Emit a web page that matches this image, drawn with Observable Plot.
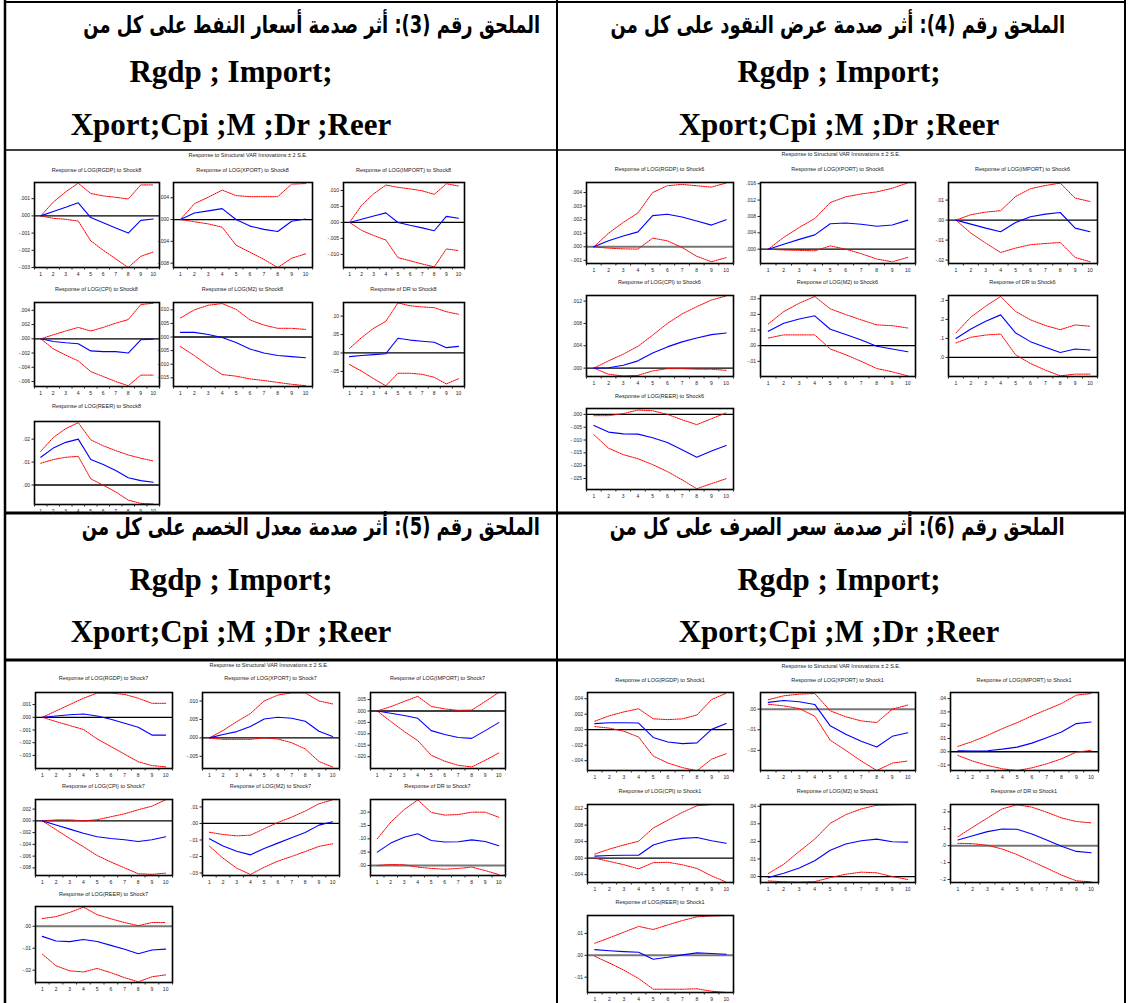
<!DOCTYPE html>
<html><head><meta charset="utf-8">
<script src="https://cdn.jsdelivr.net/npm/d3@7"></script>
<script src="https://cdn.jsdelivr.net/npm/@observablehq/plot@0.6"></script>
<style>
html,body{margin:0;padding:0;background:#fff;}
#page{position:relative;width:1130px;height:1003px;overflow:hidden;background:#fff;}
.ar{position:absolute;font-family:"DejaVu Sans",sans-serif;font-weight:bold;font-size:24px;direction:rtl;white-space:nowrap;line-height:30px;color:#000;transform:scaleX(0.745);transform-origin:right center;}
</style></head><body><div id="page"></div>
<script>
const periods = [1,2,3,4,5,6,7,8,9,10];
const variables = ["LOG(RGDP)","LOG(XPORT)","LOG(IMPORT)","LOG(CPI)","LOG(M2)","DR","LOG(REER)"];
const shocks = ["Shock8","Shock6","Shock7","Shock1"];
const headersAr = [
  "الملحق رقم (3): أثر صدمة أسعار النفط على كل من",
  "الملحق رقم (4): أثر صدمة عرض النقود على كل من",
  "الملحق رقم (5): أثر صدمة معدل الخصم على كل من",
  "الملحق رقم (6): أثر صدمة سعر الصرف على كل من"
];
const headerLine1 = "Rgdp ; Import;";
const headerLine2 = "Xport;Cpi ;M ;Dr ;Reer";
const superTitle = "Response to Structural VAR Innovations \u00b1 2 S.E.";

// ---- Shock8 (oil price) ----
const s8_rgdp    = [0, 0.00026, 0.0005, 0.00076, -0.0001, -0.0004, -0.0007, -0.001, -0.00026, -0.00018];
const s8_rgdp_hi = [0, 0.0008, 0.0014, 0.0019, 0.0013, 0.00116, 0.00108, 0.00098, 0.0018, 0.0018];
const s8_rgdp_lo = [0, -0.00014, -0.0002, -0.0003, -0.00145, -0.002, -0.0025, -0.003, -0.00235, -0.0021];
const s8_rgdp_ticks = [0.001, 0, -0.001, -0.002, -0.003];
const s8_xport    = [0, 0.0012, 0.0016, 0.002, 0, -0.0012, -0.0018, -0.0022, -0.0003, 0.0001];
const s8_xport_hi = [0, 0.0029, 0.0041, 0.0054, 0.0044, 0.0042, 0.0042, 0.0042, 0.0065, 0.0066];
const s8_xport_lo = [0, -0.0004, -0.0008, -0.0014, -0.0047, -0.006, -0.0073, -0.0088, -0.0071, -0.0063];
const s8_xport_ticks = [0.004, 0, -0.004, -0.008];
const s8_import    = [0, 0.001, 0.002, 0.003, 0, -0.0009, -0.0017, -0.0026, 0.0019, 0.0013];
const s8_import_hi = [0, 0.0054, 0.009, 0.0117, 0.011, 0.0105, 0.0099, 0.0088, 0.0121, 0.0114];
const s8_import_lo = [0, -0.0025, -0.0041, -0.0055, -0.011, -0.012, -0.013, -0.0139, -0.0083, -0.0088];
const s8_import_ticks = [0.010, 0.005, 0, -0.005, -0.010];
const s8_cpi    = [0, -0.00037, -0.00056, -0.0007, -0.0017, -0.0018, -0.0018, -0.002, -0.00014, -0.00005];
const s8_cpi_hi = [0, 0.00056, 0.0011, 0.0016, 0.0011, 0.0016, 0.0022, 0.0027, 0.0048, 0.005];
const s8_cpi_lo = [0, -0.0014, -0.0023, -0.0031, -0.0046, -0.0053, -0.006, -0.0066, -0.0051, -0.0051];
const s8_cpi_ticks = [0.004, 0.002, 0, -0.002, -0.004, -0.006];
const s8_m2    = [0.0017, 0.0017, 0.0009, -0.0002, -0.002, -0.0044, -0.0059, -0.0068, -0.0072, -0.0076];
const s8_m2_hi = [0.007, 0.01, 0.0117, 0.0123, 0.0102, 0.0063, 0.0044, 0.0032, 0.0032, 0.0028];
const s8_m2_lo = [-0.0035, -0.0068, -0.0105, -0.0138, -0.0144, -0.0154, -0.016, -0.0167, -0.0174, -0.0179];
const s8_m2_ticks = [0.010, 0.005, 0, -0.005, -0.010, -0.015];
const s8_dr    = [-0.0099, -0.007, -0.0045, -0.002, 0.04, 0.035, 0.032, 0.029, 0.0144, 0.018];
const s8_dr_hi = [0.0126, 0.042, 0.067, 0.086, 0.136, 0.128, 0.125, 0.123, 0.112, 0.105];
const s8_dr_lo = [-0.0315, -0.0495, -0.07, -0.089, -0.055, -0.055, -0.058, -0.066, -0.084, -0.07];
const s8_dr_ticks = [0.10, 0.05, 0, -0.05];
const s8_reer    = [0.0121, 0.0161, 0.0186, 0.02, 0.0111, 0.0089, 0.0063, 0.0032, 0.0019, 0.0012];
const s8_reer_hi = [0.0147, 0.0207, 0.0246, 0.0272, 0.0197, 0.0171, 0.015, 0.0131, 0.0117, 0.0105];
const s8_reer_lo = [0.0095, 0.0111, 0.0121, 0.0125, 0.0027, -0.0001, -0.003, -0.0066, -0.008, -0.0083];
const s8_reer_ticks = [0.02, 0.01, 0];

// ---- Shock6 (money supply) ----
const s6_rgdp    = [0, 0.00044, 0.0008, 0.0011, 0.0023, 0.0024, 0.0022, 0.0019, 0.0016, 0.002];
const s6_rgdp_hi = [0, 0.001, 0.0018, 0.0025, 0.004, 0.0045, 0.0046, 0.0045, 0.0044, 0.0047];
const s6_rgdp_lo = [0, -0.0001, -0.00015, -0.00017, 0.00064, 0.00044, -0.00005, -0.0007, -0.0011, -0.0008];
const s6_rgdp_ticks = [0.004, 0.003, 0.002, 0.001, 0, -0.001];
const s6_xport    = [0, 0.0012, 0.0024, 0.0035, 0.0062, 0.0064, 0.0061, 0.0056, 0.0059, 0.0071];
const s6_xport_hi = [0, 0.0029, 0.0053, 0.0075, 0.0114, 0.0128, 0.0135, 0.014, 0.0149, 0.0162];
const s6_xport_lo = [0, -0.0002, -0.0003, -0.0004, 0.0008, 0, -0.0011, -0.0024, -0.0031, -0.002];
const s6_xport_ticks = [0.016, 0.012, 0.008, 0.004, 0];
const s6_import    = [0, -0.002, -0.004, -0.0058, -0.0012, 0.0017, 0.003, 0.0038, -0.004, -0.0058];
const s6_import_hi = [0, 0.0027, 0.004, 0.0047, 0.0118, 0.0157, 0.0173, 0.0185, 0.011, 0.0093];
const s6_import_lo = [0, -0.0065, -0.0115, -0.0162, -0.014, -0.0123, -0.0117, -0.0112, -0.0187, -0.0208];
const s6_import_ticks = [0.01, 0, -0.01, -0.02];
const s6_cpi    = [0, 0.00006, 0.0005, 0.0013, 0.0027, 0.0038, 0.0047, 0.0054, 0.006, 0.0063];
const s6_cpi_hi = [0, 0.0013, 0.0025, 0.0039, 0.0059, 0.008, 0.0097, 0.011, 0.0122, 0.0129];
const s6_cpi_lo = [0, -0.0011, -0.0014, -0.0013, -0.0005, -0.0001, -0.0001, -0.0002, -0.0002, -0.0004];
const s6_cpi_ticks = [0.012, 0.008, 0.004, 0];
const s6_m2    = [0.0092, 0.0143, 0.0171, 0.0191, 0.0105, 0.0071, 0.0036, -0.0004, -0.0021, -0.0039];
const s6_m2_hi = [0.0139, 0.0218, 0.0272, 0.0315, 0.0236, 0.0199, 0.0165, 0.0133, 0.0128, 0.0113];
const s6_m2_lo = [0.0049, 0.0069, 0.0069, 0.0069, -0.0021, -0.0058, -0.01, -0.0146, -0.0167, -0.0193];
const s6_m2_ticks = [0.03, 0.02, 0.01, 0, -0.01];
const s6_dr    = [0.1, 0.15, 0.19, 0.224, 0.129, 0.083, 0.053, 0.026, 0.044, 0.039];
const s6_dr_hi = [0.129, 0.212, 0.27, 0.321, 0.242, 0.198, 0.168, 0.146, 0.171, 0.164];
const s6_dr_lo = [0.076, 0.106, 0.118, 0.123, 0.014, -0.032, -0.067, -0.097, -0.088, -0.088];
const s6_dr_ticks = [0.3, 0.2, 0.1, 0];
const s6_reer    = [-0.0043, -0.0069, -0.0076, -0.0077, -0.0091, -0.011, -0.0138, -0.0167, -0.0143, -0.0121];
const s6_reer_hi = [-0.0005, -0.0005, 0.0003, 0.0017, 0.0014, 0, -0.0021, -0.004, -0.0017, 0.0006];
const s6_reer_lo = [-0.0079, -0.0132, -0.0157, -0.0173, -0.0196, -0.0223, -0.0255, -0.029, -0.027, -0.0251];
const s6_reer_ticks = [0, -0.005, -0.010, -0.015, -0.020, -0.025];

// ---- Shock7 (discount rate) ----
const s7_rgdp    = [0, 0.0001, 0.0002, 0.00026, 0.0001, -0.00016, -0.00047, -0.00078, -0.0014, -0.0014];
const s7_rgdp_hi = [0, 0.0005, 0.001, 0.0015, 0.0019, 0.0019, 0.0018, 0.0015, 0.0011, 0.0011];
const s7_rgdp_lo = [0, -0.00034, -0.00065, -0.00096, -0.0017, -0.0023, -0.0029, -0.0035, -0.0038, -0.0039];
const s7_rgdp_ticks = [0.001, 0, -0.001, -0.002, -0.003];
const s7_xport    = [0, 0.0009, 0.0017, 0.0031, 0.0051, 0.0056, 0.0053, 0.0045, 0.0018, 0.0004];
const s7_xport_hi = [0, 0.002, 0.0044, 0.0066, 0.01, 0.0116, 0.0122, 0.0122, 0.01, 0.0092];
const s7_xport_lo = [0, -0.0004, -0.0004, -0.0004, 0, -0.0003, -0.0013, -0.003, -0.0064, -0.0079];
const s7_xport_ticks = [0.010, 0.005, 0, -0.005];
const s7_import    = [0, -0.001, -0.002, -0.0032, -0.0086, -0.0103, -0.0116, -0.012, -0.0086, -0.0051];
const s7_import_hi = [0, 0.0019, 0.0042, 0.0064, 0.002, 0.0009, 0.0003, 0.0004, 0.0042, 0.0081];
const s7_import_lo = [0, -0.0046, -0.009, -0.013, -0.0194, -0.022, -0.0238, -0.0245, -0.0216, -0.0184];
const s7_import_ticks = [0.005, 0, -0.005, -0.010, -0.015, -0.020];
const s7_cpi    = [0, -0.0007, -0.0014, -0.0021, -0.0027, -0.003, -0.0032, -0.0035, -0.0032, -0.0027];
const s7_cpi_hi = [0, 0.00017, 0.00017, 0, 0.0002, 0.0007, 0.0012, 0.0019, 0.0025, 0.0036];
const s7_cpi_lo = [0, -0.0015, -0.003, -0.0044, -0.0059, -0.007, -0.008, -0.009, -0.0091, -0.0089];
const s7_cpi_ticks = [0.002, 0, -0.002, -0.004, -0.006, -0.008];
const s7_m2    = [-0.0093, -0.0137, -0.0168, -0.019, -0.0152, -0.0119, -0.0087, -0.0055, -0.001, 0.001];
const s7_m2_hi = [-0.0053, -0.0067, -0.0075, -0.0071, -0.0032, 0.0006, 0.0038, 0.0075, 0.0119, 0.0143];
const s7_m2_lo = [-0.0137, -0.021, -0.0271, -0.0309, -0.0265, -0.0228, -0.02, -0.017, -0.0139, -0.0123];
const s7_m2_ticks = [0.01, 0, -0.01, -0.02, -0.03];
const s7_dr    = [0.05, 0.084, 0.106, 0.119, 0.094, 0.088, 0.089, 0.096, 0.09, 0.074];
const s7_dr_hi = [0.1, 0.1625, 0.21, 0.246, 0.199, 0.189, 0.191, 0.2, 0.2, 0.181];
const s7_dr_lo = [0, 0.004, 0.0025, -0.006, -0.011, -0.014, -0.011, -0.006, -0.019, -0.034];
const s7_dr_ticks = [0.20, 0.15, 0.10, 0.05, 0];
const s7_reer    = [-0.0046, -0.0067, -0.007, -0.006, -0.0069, -0.0087, -0.0105, -0.0125, -0.0108, -0.0104];
const s7_reer_hi = [0.0035, 0.0044, 0.0063, 0.0087, 0.0053, 0.0034, 0.0017, 0.0003, 0.0017, 0.0017];
const s7_reer_lo = [-0.0127, -0.018, -0.0203, -0.0208, -0.0192, -0.0211, -0.0234, -0.0253, -0.023, -0.0221];
const s7_reer_ticks = [0, -0.01, -0.02];

// ---- Shock1 (exchange rate) ----
const s1_rgdp    = [0.00078, 0.0009, 0.0009, 0.00086, -0.001, -0.0016, -0.0018, -0.0017, 0.00004, 0.0008];
const s1_rgdp_hi = [0.0011, 0.0018, 0.0023, 0.0027, 0.0014, 0.0013, 0.0014, 0.0019, 0.0039, 0.0047];
const s1_rgdp_lo = [0.0004, 0.0002, -0.0002, -0.00095, -0.0034, -0.0043, -0.0049, -0.0053, -0.0038, -0.0031];
const s1_rgdp_ticks = [0.004, 0.002, 0, -0.002, -0.004];
const s1_xport    = [0.0033, 0.0042, 0.0036, 0.0023, -0.0081, -0.0122, -0.0156, -0.0184, -0.0132, -0.0115];
const s1_xport_hi = [0.0046, 0.0065, 0.0073, 0.0076, -0.0008, -0.0037, -0.0057, -0.0065, 0, 0.002];
const s1_xport_lo = [0.0024, 0.0016, 0.0003, -0.0034, -0.0151, -0.02, -0.0252, -0.0298, -0.0262, -0.0252];
const s1_xport_ticks = [0, -0.01, -0.02];
const s1_import    = [0.0008, 0.0005, 0.0008, 0.002, 0.0035, 0.0065, 0.0106, 0.0149, 0.0212, 0.0224];
const s1_import_hi = [0.004, 0.0078, 0.0123, 0.0174, 0.0219, 0.027, 0.0317, 0.0363, 0.0426, 0.0438];
const s1_import_lo = [-0.0028, -0.007, -0.0103, -0.0128, -0.0141, -0.0121, -0.0091, -0.0053, -0.0003, 0.001];
const s1_import_ticks = [0.04, 0.03, 0.02, 0.01, 0, -0.01];
const s1_cpi    = [0.0005, 0.00065, 0.0007, 0.0007, 0.0032, 0.0042, 0.0048, 0.005, 0.0042, 0.0036];
const s1_cpi_hi = [0.001, 0.0022, 0.0032, 0.0041, 0.0073, 0.0092, 0.0111, 0.0127, 0.013, 0.013];
const s1_cpi_lo = [0, -0.0008, -0.0016, -0.0026, -0.0011, -0.001, -0.0016, -0.0025, -0.0043, -0.0058];
const s1_cpi_ticks = [0.012, 0.008, 0.004, 0, -0.004];
const s1_m2    = [-0.0006, 0.0019, 0.0048, 0.009, 0.015, 0.0185, 0.0204, 0.0213, 0.0198, 0.0196];
const s1_m2_hi = [0.0017, 0.007, 0.0143, 0.0213, 0.0303, 0.0352, 0.0385, 0.0406, 0.0408, 0.041];
const s1_m2_lo = [-0.0025, -0.003, -0.0032, -0.0029, -0.0006, 0.0013, 0.0025, 0.0021, 0, -0.0017];
const s1_m2_ticks = [0.04, 0.03, 0.02, 0.01, 0];
const s1_dr    = [0.034, 0.059, 0.083, 0.099, 0.097, 0.069, 0.034, -0.004, -0.034, -0.042];
const s1_dr_hi = [0.053, 0.109, 0.164, 0.218, 0.242, 0.228, 0.198, 0.164, 0.143, 0.135];
const s1_dr_lo = [0.014, 0.012, 0.002, -0.02, -0.053, -0.093, -0.133, -0.174, -0.208, -0.214];
const s1_dr_ticks = [0.2, 0.1, 0, -0.1, -0.2];
const s1_reer    = [0.0026, 0.0021, 0.0017, 0.0014, -0.0018, -0.0009, 0.0002, 0.0011, 0.0008, 0.0005];
const s1_reer_hi = [0.0055, 0.008, 0.0106, 0.0132, 0.0118, 0.0139, 0.0159, 0.0176, 0.018, 0.0182];
const s1_reer_lo = [-0.0005, -0.0035, -0.0068, -0.0106, -0.0155, -0.0155, -0.0155, -0.0153, -0.0164, -0.017];
const s1_reer_ticks = [0.01, 0, -0.01];

// ---- axis extents and label decimals ----
const s8_domains = [[-0.003,0.00194],[-0.0088,0.0068],[-0.0141,0.0125],[-0.0067,0.0051],[-0.0182,0.0127],[-0.091,0.137],[-0.0085,0.0277]];
const s6_domains = [[-0.00123,0.00474],[-0.0035,0.0163],[-0.0217,0.0188],[-0.0015,0.013],[-0.0197,0.0321],[-0.1005,0.326],[-0.0293,0.0023]];
const s7_domains = [[-0.00403,0.00195],[-0.0083,0.0123],[-0.0252,0.0081],[-0.0093,0.00364],[-0.0315,0.0145],[-0.0375,0.2475],[-0.0256,0.009]];
const s1_domains = [[-0.00527,0.0048],[-0.0298,0.0081],[-0.0141,0.0446],[-0.0059,0.013],[-0.0034,0.041],[-0.218,0.2436],[-0.017,0.0182]];
const s8_decimals = [3,3,3,3,3,2,2];
const s6_decimals = [3,3,2,3,2,1,3];
const s7_decimals = [3,3,3,3,2,2,2];
const s1_decimals = [3,2,2,3,2,1,2];

const panelSeries = [
  {resp:[s8_rgdp,s8_xport,s8_import,s8_cpi,s8_m2,s8_dr,s8_reer], hi:[s8_rgdp_hi,s8_xport_hi,s8_import_hi,s8_cpi_hi,s8_m2_hi,s8_dr_hi,s8_reer_hi], lo:[s8_rgdp_lo,s8_xport_lo,s8_import_lo,s8_cpi_lo,s8_m2_lo,s8_dr_lo,s8_reer_lo], ticks:[s8_rgdp_ticks,s8_xport_ticks,s8_import_ticks,s8_cpi_ticks,s8_m2_ticks,s8_dr_ticks,s8_reer_ticks], dom:s8_domains, dec:s8_decimals},
  {resp:[s6_rgdp,s6_xport,s6_import,s6_cpi,s6_m2,s6_dr,s6_reer], hi:[s6_rgdp_hi,s6_xport_hi,s6_import_hi,s6_cpi_hi,s6_m2_hi,s6_dr_hi,s6_reer_hi], lo:[s6_rgdp_lo,s6_xport_lo,s6_import_lo,s6_cpi_lo,s6_m2_lo,s6_dr_lo,s6_reer_lo], ticks:[s6_rgdp_ticks,s6_xport_ticks,s6_import_ticks,s6_cpi_ticks,s6_m2_ticks,s6_dr_ticks,s6_reer_ticks], dom:s6_domains, dec:s6_decimals},
  {resp:[s7_rgdp,s7_xport,s7_import,s7_cpi,s7_m2,s7_dr,s7_reer], hi:[s7_rgdp_hi,s7_xport_hi,s7_import_hi,s7_cpi_hi,s7_m2_hi,s7_dr_hi,s7_reer_hi], lo:[s7_rgdp_lo,s7_xport_lo,s7_import_lo,s7_cpi_lo,s7_m2_lo,s7_dr_lo,s7_reer_lo], ticks:[s7_rgdp_ticks,s7_xport_ticks,s7_import_ticks,s7_cpi_ticks,s7_m2_ticks,s7_dr_ticks,s7_reer_ticks], dom:s7_domains, dec:s7_decimals},
  {resp:[s1_rgdp,s1_xport,s1_import,s1_cpi,s1_m2,s1_dr,s1_reer], hi:[s1_rgdp_hi,s1_xport_hi,s1_import_hi,s1_cpi_hi,s1_m2_hi,s1_dr_hi,s1_reer_hi], lo:[s1_rgdp_lo,s1_xport_lo,s1_import_lo,s1_cpi_lo,s1_m2_lo,s1_dr_lo,s1_reer_lo], ticks:[s1_rgdp_ticks,s1_xport_ticks,s1_import_ticks,s1_cpi_ticks,s1_m2_ticks,s1_dr_ticks,s1_reer_ticks], dom:s1_domains, dec:s1_decimals}
];

// ---- page layout ----
const layout = [
  {cols:[[34,159],[173,312],[343,464]], rows:[[171,182,267],[290,302,386],[407,421,504]], sup:[248,156], grayZero:[]},
  {cols:[[586,733],[760,915],[948,1097]], rows:[[170,182,263],[283,295,376],[397,408,489]], sup:[841,155], grayZero:[0]},
  {cols:[[35,172],[202,339],[370,505]], rows:[[679,692,768],[787,799,875],[895,906,982]], sup:[269,666], grayZero:[5,6]},
  {cols:[[587,733],[760,915],[950,1098]], rows:[[681,692,770],[792,804,882],[903,915,992]], sup:[841,667], grayZero:[1,5,6]}
];
const headerBlocks = [
  {ar:0, arTop:10,  arRight:540,  cx:231, b1:82,  b2:135},
  {ar:1, arTop:10,  arRight:1065, cx:839, b1:82,  b2:135},
  {ar:2, arTop:512, arRight:540,  cx:231, b1:590, b2:642},
  {ar:3, arTop:512, arRight:1065, cx:839, b1:590, b2:642}
];

const page = document.getElementById("page");
const W = 1130, H = 1003;

// overlay: table rules, headers (latin), titles
const ov = d3.select(page).append("svg").attr("width", W).attr("height", H)
  .style("position","absolute").style("left","0px").style("top","0px");
const rules = [
  [5,2,1125,2,2],[5,0,5,H,2.5],[1125,0,1125,H,2],[557,0,557,H,2],
  [5,150,1125,150,1.6],[5,513,1125,513,3],[5,660,1125,660,3]
];
ov.selectAll("line").data(rules).join("line")
  .attr("x1",d=>d[0]).attr("y1",d=>d[1]).attr("x2",d=>d[2]).attr("y2",d=>d[3])
  .attr("stroke","#000").attr("stroke-width",d=>d[4]);

headerBlocks.forEach(h => {
  const div = document.createElement("div");
  div.className = "ar";
  div.setAttribute("dir","rtl");
  div.textContent = headersAr[h.ar];
  div.style.right = (W - h.arRight) + "px";
  div.style.top = h.arTop + "px";
  page.appendChild(div);
  ov.append("text").attr("x", h.cx).attr("y", h.b1).attr("text-anchor","middle")
    .attr("font-family","Liberation Serif, Times New Roman, serif").attr("font-weight","bold")
    .attr("font-size",31).text(headerLine1);
  ov.append("text").attr("x", h.cx).attr("y", h.b2).attr("text-anchor","middle")
    .attr("font-family","Liberation Serif, Times New Roman, serif").attr("font-weight","bold")
    .attr("font-size",31).text(headerLine2);
});

const fmtFor = dec => v => {
  const s = (Math.abs(v) < 1e-12 ? 0 : v).toFixed(dec);
  return s.replace(/^(-?)0\./, "$1.");
};
const bounds = d3.range(0.5, 11, 1);

layout.forEach((L, pi) => {
  const S = panelSeries[pi];
  ov.append("text").attr("x", L.sup[0]).attr("y", L.sup[1]).attr("text-anchor","middle")
    .attr("dominant-baseline","middle").attr("font-family","Liberation Sans, Arial, sans-serif")
    .attr("font-size",5.5).attr("fill","#222").text(superTitle);
  variables.forEach((vname, i) => {
    const [cx0, cx1] = L.cols[i % 3];
    const [ty, fy0, fy1] = L.rows[Math.floor(i / 3)];
    ov.append("text").attr("x", (cx0 + cx1) / 2).attr("y", ty).attr("text-anchor","middle")
      .attr("dominant-baseline","middle").attr("font-family","Liberation Sans, Arial, sans-serif")
      .attr("font-size",5.5).attr("fill","#222").text(`Response of ${vname} to ${shocks[pi]}`);
    const rows = periods.map((p, k) => ({p, r: S.resp[i][k], hi: S.hi[i][k], lo: S.lo[i][k]}));
    const mL = 30, mR = 6, mT = 4, mB = 14;
    const gray = L.grayZero.includes(i);
    const svg = Plot.plot({
      width: cx1 - cx0 + mL + mR, height: fy1 - fy0 + mT + mB,
      marginLeft: mL, marginRight: mR, marginTop: mT, marginBottom: mB,
      style: {fontFamily: "Liberation Sans, Arial, sans-serif", fontSize: "5px", color: "#222", background: "transparent", overflow: "visible"},
      x: {domain: [0.5, 10.5], axis: null, label: null},
      y: {domain: S.dom[i], axis: null, label: null},
      marks: [
        Plot.ruleY([0], {stroke: gray ? "#777" : "#000", strokeWidth: gray ? 2 : 1.3}),
        Plot.lineY(rows, {x: "p", y: "hi", stroke: "#ff0000", strokeWidth: 1, strokeDasharray: "1.3,1", clip: true}),
        Plot.lineY(rows, {x: "p", y: "lo", stroke: "#ff0000", strokeWidth: 1, strokeDasharray: "1.3,1", clip: true}),
        Plot.lineY(rows, {x: "p", y: "r", stroke: "#0000ff", strokeWidth: 1.1, clip: true}),
        Plot.frame({stroke: "#000", strokeWidth: 1.6}),
        Plot.axisY(S.ticks[i], {anchor: "left", tickSize: 2.5, tickPadding: 2, tickFormat: fmtFor(S.dec[i]), fontSize: 5, label: null}),
        Plot.axisX(periods, {anchor: "bottom", tickSize: 0, tickPadding: 5, fontSize: 5, tickFormat: d => String(d), label: null}),
        Plot.axisX(bounds, {anchor: "bottom", tickSize: 2.5, tickFormat: () => "", label: null})
      ]
    });
    svg.style.position = "absolute";
    svg.style.left = (cx0 - mL) + "px";
    svg.style.top = (fy0 - mT) + "px";
    page.appendChild(svg);
  });
});
</script>
</body></html>
